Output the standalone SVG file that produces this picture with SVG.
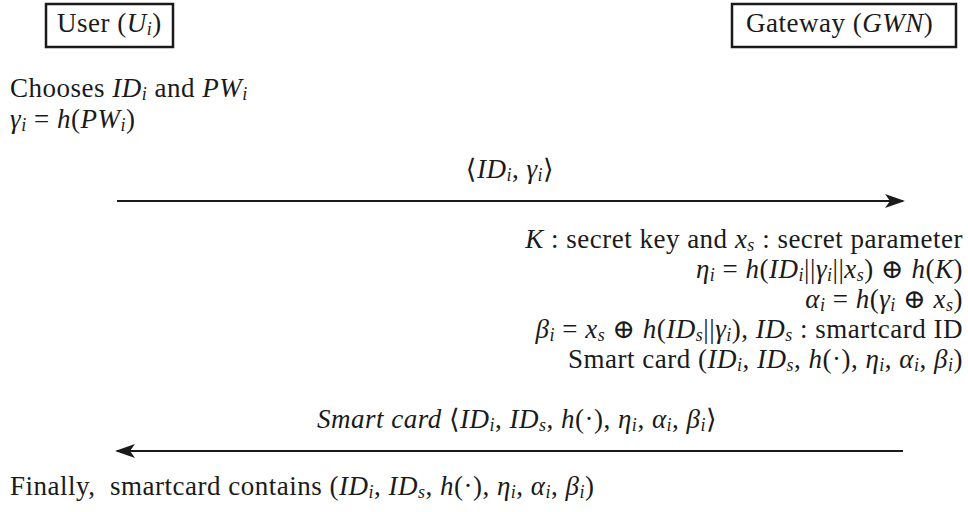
<svg xmlns="http://www.w3.org/2000/svg" width="968" height="512" viewBox="0 0 968 512">
<style>
text{font-family:"Liberation Serif","DejaVu Serif",serif;font-size:27px;letter-spacing:0.5px;fill:#1a1a1a}
.i{font-style:italic}
.s{font-size:18px;baseline-shift:-3px;font-style:italic}
.box{fill:#fff;stroke:#1a1a1a;stroke-width:2.5}
.ln{stroke:#1a1a1a;stroke-width:2;fill:none}
</style>
<defs>
<marker id="ah" viewBox="0 0 20 14" refX="18" refY="7" markerWidth="20" markerHeight="14" markerUnits="userSpaceOnUse" orient="auto">
<path d="M0,0 L20,7 L0,14 L5,7 Z" fill="#1a1a1a"/>
</marker>
</defs>
<g id="user">
<rect class="box" x="46" y="4" width="127" height="43"/>
<text x="57" y="32">User (<tspan class="i">U</tspan><tspan class="s">i</tspan>)</text>
</g>
<g id="gateway">
<rect class="box" x="732" y="4" width="224" height="43"/>
<text x="746" y="32">Gateway (<tspan class="i">GWN</tspan>)</text>
</g>
<g id="user-steps">
<text x="10" y="97">Chooses <tspan class="i">ID</tspan><tspan class="s">i</tspan> and <tspan class="i">PW</tspan><tspan class="s">i</tspan></text>
<text x="10" y="128"><tspan class="i">γ</tspan><tspan class="s">i</tspan> = <tspan class="i">h</tspan>(<tspan class="i">PW</tspan><tspan class="s">i</tspan>)</text>
</g>
<g id="gateway-steps">
<text x="963" y="248" text-anchor="end"><tspan class="i">K</tspan> : secret key and <tspan class="i">x</tspan><tspan class="s">s</tspan> : secret parameter</text>
<text x="963" y="278" text-anchor="end"><tspan class="i">η</tspan><tspan class="s">i</tspan> = <tspan class="i">h</tspan>(<tspan class="i">ID</tspan><tspan class="s">i</tspan>||<tspan class="i">γ</tspan><tspan class="s">i</tspan>||<tspan class="i">x</tspan><tspan class="s">s</tspan>) ⊕ <tspan class="i">h</tspan>(<tspan class="i">K</tspan>)</text>
<text x="963" y="308" text-anchor="end"><tspan class="i">α</tspan><tspan class="s">i</tspan> = <tspan class="i">h</tspan>(<tspan class="i">γ</tspan><tspan class="s">i</tspan> ⊕ <tspan class="i">x</tspan><tspan class="s">s</tspan>)</text>
<text x="963" y="338" text-anchor="end"><tspan class="i">β</tspan><tspan class="s">i</tspan> = <tspan class="i">x</tspan><tspan class="s">s</tspan> ⊕ <tspan class="i">h</tspan>(<tspan class="i">ID</tspan><tspan class="s">s</tspan>||<tspan class="i">γ</tspan><tspan class="s">i</tspan>), <tspan class="i">ID</tspan><tspan class="s">s</tspan> : smartcard ID</text>
<text x="963" y="368" text-anchor="end">Smart card (<tspan class="i">ID</tspan><tspan class="s">i</tspan>, <tspan class="i">ID</tspan><tspan class="s">s</tspan>, <tspan class="i">h</tspan>(·), <tspan class="i">η</tspan><tspan class="s">i</tspan>, <tspan class="i">α</tspan><tspan class="s">i</tspan>, <tspan class="i">β</tspan><tspan class="s">i</tspan>)</text>
</g>
<g id="final">
<text x="10" y="495">Finally,&#160; smartcard contains (<tspan class="i">ID</tspan><tspan class="s">i</tspan>, <tspan class="i">ID</tspan><tspan class="s">s</tspan>, <tspan class="i">h</tspan>(·), <tspan class="i">η</tspan><tspan class="s">i</tspan>, <tspan class="i">α</tspan><tspan class="s">i</tspan>, <tspan class="i">β</tspan><tspan class="s">i</tspan>)</text>
</g>
<g id="connectors">
<line class="ln" x1="117" y1="201" x2="903" y2="201" marker-end="url(#ah)"/>
<text x="510" y="178" text-anchor="middle">⟨<tspan class="i">ID</tspan><tspan class="s">i</tspan>, <tspan class="i">γ</tspan><tspan class="s">i</tspan>⟩</text>
<line class="ln" x1="903" y1="451" x2="117" y2="451" marker-end="url(#ah)"/>
<text x="517" y="428" text-anchor="middle"><tspan class="i">Smart card</tspan> ⟨<tspan class="i">ID</tspan><tspan class="s">i</tspan>, <tspan class="i">ID</tspan><tspan class="s">s</tspan>, <tspan class="i">h</tspan>(·), <tspan class="i">η</tspan><tspan class="s">i</tspan>, <tspan class="i">α</tspan><tspan class="s">i</tspan>, <tspan class="i">β</tspan><tspan class="s">i</tspan>⟩</text>
</g>
</svg>
